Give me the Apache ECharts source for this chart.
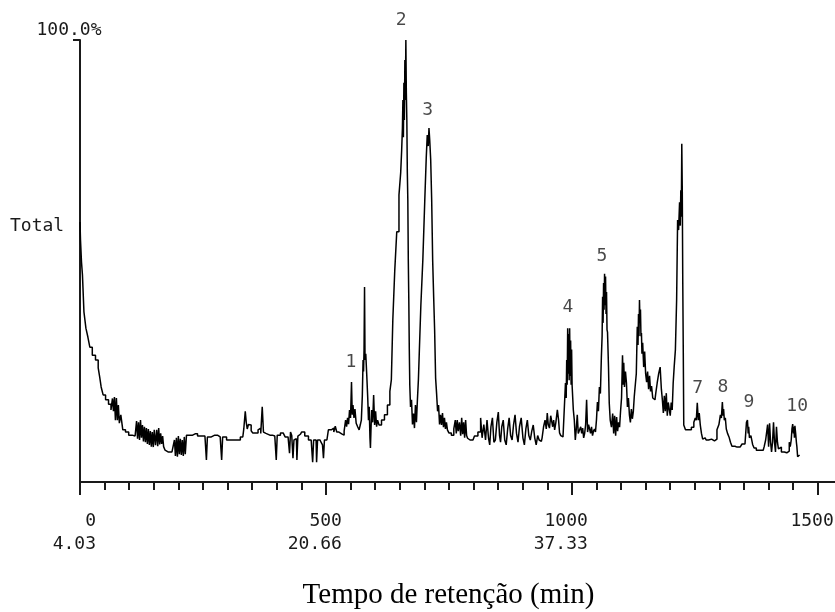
<!DOCTYPE html>
<html><head><meta charset="utf-8">
<script src="https://cdn.jsdelivr.net/npm/echarts@6/dist/echarts.min.js"></script>
<style>html,body{margin:0;padding:0;background:#fff}#c{width:835px;height:612px}</style>
</head><body><div id="c"></div>
<script>
// Total ion chromatogram: [scan number, relative intensity %]
const trace = [
[0,58.8],[2,54.8],[4,49.8],[6,46.8],[10,38.5],[14,34.8],[18,32.8],[22,30.5],[28,28.7],[35,27.6],[39,25.8],[41,23.8],[45,21.5],[49,19.7],[55,18.6],[61,17.6],[65,16.3],[67,18.9],[69,16.0],[71,19.2],[73,14.0],[75,19.0],[77,14.0],[79,17.4],[81,13.3],[85,15.2],[89,11.8],[96,11.3],[102,10.6],[110,10.4],[114,10.2],[116,13.8],[118,9.8],[120,13.5],[122,9.5],[124,14.0],[126,10.0],[128,12.9],[130,9.2],[132,12.5],[134,9.0],[136,12.2],[138,8.6],[140,12.0],[142,8.4],[144,11.5],[146,8.0],[148,11.3],[150,7.9],[152,11.8],[155,8.3],[157,11.8],[159,8.1],[161,12.2],[163,8.5],[165,11.0],[167,8.6],[169,10.4],[171,8.0],[175,7.2],[179,6.8],[187,6.8],[191,6.5],[193,9.5],[195,5.9],[197,10.0],[199,5.7],[201,10.4],[203,6.3],[205,9.8],[207,6.1],[209,9.5],[211,5.9],[213,10.2],[215,6.3],[218,10.6],[224,10.6],[234,10.9],[244,10.4],[254,10.4],[256,10.2],[258,5.0],[260,10.2],[274,10.6],[285,10.2],[287,10.2],[289,5.0],[291,10.2],[305,9.5],[321,9.5],[331,10.2],
[335,12.0],[337,16.0],[339,13.5],[341,12.0],[344,13.0],[346,12.9],[350,11.6],[352,11.1],[360,11.1],[364,11.8],[366,12.2],[369,11.0],[372,17.0],[374,11.3],[378,11.0],[386,10.6],[396,10.4],[398,10.4],[400,5.0],[402,10.6],[413,11.1],[421,10.2],[425,10.0],[427,6.5],[429,11.3],[432,10.5],[434,5.4],[436,9.5],[440,9.8],[442,5.0],[444,10.4],[448,10.8],[453,11.3],[461,10.4],[468,9.5],[472,9.5],[474,4.5],[476,9.5],[480,9.5],[482,4.5],[484,9.5],[488,9.5],[492,9.0],[494,8.4],[496,5.4],[498,9.5],[502,9.5],[508,11.8],[514,12.2],[518,11.3],[520,12.6],[524,11.3],[529,10.9],[535,10.6],[539,11.5],[541,14.0],[543,12.5],[545,14.5],[547,13.1],[549,16.3],[551,14.5],[553,22.6],[554,15.2],[556,17.4],[558,14.5],[560,16.5],[563,13.3],[566,12.5],[569,11.8],[571,13.0],[573,14.0],[575,19.5],[576,27.6],[577,25.0],[578,30.0],[579,44.1],[580,27.6],[582,29.0],[584,24.2],[586,19.0],[587,14.0],[589,17.0],[590,10.0],[591,7.7],[592,11.5],[594,16.3],[596,13.5],[598,19.7],[600,12.9],[602,16.0],[604,12.5],[606,14.0],[610,12.9],[616,14.0],[622,15.2],[628,17.4],
[632,20.5],[634,23.1],[638,36.7],[642,48.0],[646,56.6],[651,64.9],[653,70.0],[655,75.1],[656,80.0],[657,86.4],[658,78.0],[659,90.3],[660,81.9],[661,95.5],[662,86.4],[663,100],[664,88.0],[665,81.9],[666,70.0],[667,63.8],[668,50.0],[669,41.2],[670,30.0],[671,21.9],[673,17.0],[675,18.6],[677,13.0],[679,15.5],[681,12.2],[683,17.4],[685,13.5],[687,18.6],[689,23.1],[691,29.9],[695,40.0],[699,50.2],[703,63.8],[705,73.5],[707,78.5],[709,76.0],[710,80.1],[712,77.4],[714,72.9],[716,63.8],[718,50.2],[720,42.0],[722,34.4],[724,23.5],[726,20.0],[728,16.0],[730,17.4],[732,13.0],[734,15.2],[736,12.9],[738,15.6],[740,12.4],[742,14.5],[744,12.0],[746,13.5],[748,11.8],[752,11.1],[758,10.6],[762,12.0],[764,14.0],[766,11.0],[768,14.0],[770,11.5],[773,13.5],[775,10.5],[777,14.5],[779,10.8],[781,13.5],[783,10.0],[785,14.0],[787,10.5],[789,9.9],[793,9.5],[799,9.5],[805,10.4],
[813,11.3],[816,14.5],[819,10.0],[823,13.0],[826,9.5],[829,14.0],[832,10.0],[834,8.4],[837,12.5],[840,14.5],[843,9.0],[846,9.5],[849,13.5],[852,15.8],[854,10.5],[856,9.0],[859,12.5],[862,14.0],[865,9.5],[868,8.4],[871,12.0],[874,14.5],[877,10.5],[880,9.5],[883,13.0],[886,15.2],[889,11.0],[892,9.0],[895,12.5],[899,14.5],[902,10.0],[905,8.4],[908,12.0],[911,14.0],[914,10.5],[917,9.5],[920,11.5],[923,12.9],[926,10.0],[929,8.4],[932,10.5],[935,9.5],[938,9.2],[941,10.0],[944,12.5],[947,14.0],[949,12.0],[951,15.6],[953,13.0],[956,12.2],[958,15.0],[960,15.2],[962,12.5],[964,14.0],[966,11.8],[969,13.5],[972,16.3],[974,14.0],[976,11.1],[979,10.5],[982,10.2],[986,10.4],
[988,22.4],[989,19.0],[990,27.6],[991,22.0],[992,34.8],[993,24.5],[994,33.5],[995,23.0],[996,34.8],[997,24.0],[998,32.0],[999,22.0],[1000,30.0],[1001,21.9],[1002,21.9],[1004,16.3],[1006,14.0],[1008,9.5],[1010,12.0],[1012,15.2],[1014,11.0],[1017,10.6],[1019,12.5],[1021,11.0],[1023,12.2],[1025,10.0],[1027,11.0],[1029,13.0],[1031,18.6],[1033,11.3],[1035,13.0],[1037,12.0],[1039,11.0],[1041,12.5],[1043,10.5],[1045,11.5],[1047,12.0],
[1049,11.3],[1051,14.0],[1053,18.1],[1055,16.0],[1057,21.5],[1059,20.0],[1061,28.3],[1062,33.0],[1063,41.9],[1064,36.0],[1065,45.0],[1066,39.0],[1067,47.1],[1068,40.0],[1069,46.5],[1070,38.0],[1071,43.0],[1072,34.4],[1073,33.9],[1074,30.0],[1075,26.0],[1077,17.9],[1079,14.0],[1082,12.4],[1084,15.5],[1086,11.0],[1088,15.0],[1090,10.5],[1092,14.7],[1094,11.5],[1096,13.5],[1098,12.4],[1100,16.0],[1102,19.0],[1104,28.7],[1105,22.0],[1106,27.0],[1108,21.5],[1110,25.0],[1112,22.4],[1114,17.0],[1116,19.0],[1118,15.2],[1120,13.5],[1122,16.5],[1124,14.3],[1126,16.0],[1128,19.5],[1130,22.0],[1132,24.5],[1134,35.1],[1135,31.0],[1136,38.0],[1137,33.0],[1138,41.2],[1139,36.0],[1140,39.0],[1141,33.0],[1142,33.7],[1143,29.0],[1145,31.5],[1147,26.0],[1149,29.5],[1151,24.5],[1153,22.6],[1155,25.0],[1157,21.0],[1159,24.0],[1161,20.5],[1163,21.7],[1166,19.0],[1169,18.6],[1172,20.0],[1175,22.4],[1178,24.5],[1181,26.0],[1183,21.0],[1185,18.6],[1187,15.6],[1189,19.5],[1191,16.0],[1193,20.1],[1195,15.0],[1197,18.0],[1199,16.5],[1201,15.0],[1203,18.0],[1205,16.3],[1207,22.4],[1209,26.0],[1212,29.9],[1214,41.2],[1216,59.3],[1218,57.0],[1220,63.3],[1221,58.0],[1222,66.0],[1223,60.0],[1224,76.5],[1225,66.0],[1226,45.0],[1227,30.0],[1228,12.9],
[1234,11.8],[1240,11.8],[1246,12.4],[1250,13.5],[1252,14.5],[1254,14.0],[1256,17.9],[1258,14.0],[1260,15.6],[1262,13.0],[1265,11.0],[1267,9.7],[1271,10.0],[1275,9.5],[1281,9.7],[1287,9.3],[1293,9.7],[1297,11.8],[1301,13.0],[1303,15.2],[1305,14.5],[1307,18.1],[1308,15.0],[1309,16.5],[1311,14.0],[1313,14.5],[1315,12.0],[1318,11.0],[1321,10.2],[1324,9.0],[1327,8.1],[1336,7.9],[1342,7.9],[1350,8.6],[1354,9.0],[1356,13.5],[1358,14.0],[1359,11.0],[1360,12.5],[1362,10.0],[1366,10.5],[1369,8.5],[1372,7.7],[1378,7.2],[1389,7.2],[1393,8.0],[1395,9.5],[1397,9.8],[1399,13.0],[1401,8.0],[1403,13.3],[1405,9.0],[1407,6.8],[1409,9.0],[1411,13.5],[1413,9.0],[1415,6.8],[1417,12.5],[1419,9.0],[1421,7.5],[1423,7.9],[1429,6.8],[1435,6.6],[1439,6.6],[1441,7.0],[1443,9.0],[1445,8.0],[1447,9.5],[1448,12.0],[1450,13.1],[1451,11.0],[1452,12.5],[1453,10.0],[1454,12.7],[1456,11.0],[1457,9.0],[1458,8.0],[1460,5.7],[1462,6.1],[1464,5.3]
];
// x-axis tick labels: scan number and retention time (min)
const tickScans = [0, 500, 1000, 1500];
const tickTimes = ['4.03', '20.66', '37.33', ''];
// peak number labels
const peakNames = ['1', '2', '3', '4', '5', '7', '8', '9', '10'];
const peakScans = [551, 653, 707, 992, 1061, 1256, 1307, 1360, 1458];
const peakLevels = [27.1, 104.5, 84.2, 39.6, 51.1, 21.3, 21.5, 18.1, 17.2];

// small tick marks every 50 scans up to the last labelled scan
const smallTickStep = 50;
const smallTicks = [];
for (let s = 0; s <= tickScans[tickScans.length - 1]; s += smallTickStep) smallTicks.push(s);

const mono = 'DejaVu Sans Mono';
const ink = '#1a1a1a';
const chart = echarts.init(document.getElementById('c'), null, {renderer: 'canvas'});
const labelData = peakNames.map((n, i) => [peakScans[i], peakLevels[i], n]);
chart.setOption({
  animation: false,
  backgroundColor: '#ffffff',
  title: {text: 'Total', left: 10, top: 217, padding: 0,
    textStyle: {fontFamily: mono, fontSize: 18, fontWeight: 'normal', color: ink, lineHeight: 18}},
  grid: {left: 80, right: 0, top: 40, bottom: 130, containLabel: false, outerBoundsMode: 'none'},
  xAxis: [{
    type: 'value', min: 0, max: 1535, interval: 50,
    axisLine: {show: true, onZero: false, lineStyle: {color: ink, width: 2}},
    axisTick: {show: true, length: 8, customValues: smallTicks, lineStyle: {color: ink, width: 2}},
    splitLine: {show: false},
    axisLabel: {show: false},
    name: 'Tempo de retenção (min)', nameLocation: 'middle', nameGap: 99,
    nameTextStyle: {fontFamily: 'Liberation Serif', fontSize: 29, color: '#000', padding: [0, 18, 0, 0]}
  }, {
    type: 'value', min: 0, max: 1535, interval: 500, position: 'bottom',
    axisLine: {show: false},
    axisTick: {show: true, length: 13, customValues: tickScans, lineStyle: {color: ink, width: 2}},
    splitLine: {show: false},
    axisLabel: {
      formatter: v => {
        const i = tickScans.indexOf(v);
        if (i < 0) return '';
        return tickTimes[i] ? v + '\n' + tickTimes[i] : String(v);
      },
      align: 'right', padding: [0, -16, 0, 0], margin: 28, lineHeight: 23,
      fontFamily: mono, fontSize: 18, color: ink
    }
  }],
  yAxis: {
    type: 'value', min: 0, max: 100, interval: 100,
    axisLine: {show: true, lineStyle: {color: ink, width: 2}},
    axisTick: {show: true, length: 7, customValues: [100], lineStyle: {color: ink, width: 2}},
    splitLine: {show: false},
    axisLabel: {formatter: v => v === 100 ? '100.0%' : '', align: 'center', verticalAlign: 'bottom',
      margin: 11, lineHeight: 20, fontFamily: mono, fontSize: 18, color: ink}
  },
  series: [{
    type: 'line', data: trace, xAxisIndex: 0, showSymbol: false, symbol: 'none', step: 'middle',
    lineStyle: {color: '#000', width: 1.5}, silent: true
  }, {
    type: 'scatter', data: labelData, xAxisIndex: 0, symbolSize: 0, clip: false, silent: true,
    label: {show: true, position: 'inside', formatter: p => p.value[2],
      fontFamily: mono, fontSize: 18, color: ink}
  }]
});
</script>
</body></html>
